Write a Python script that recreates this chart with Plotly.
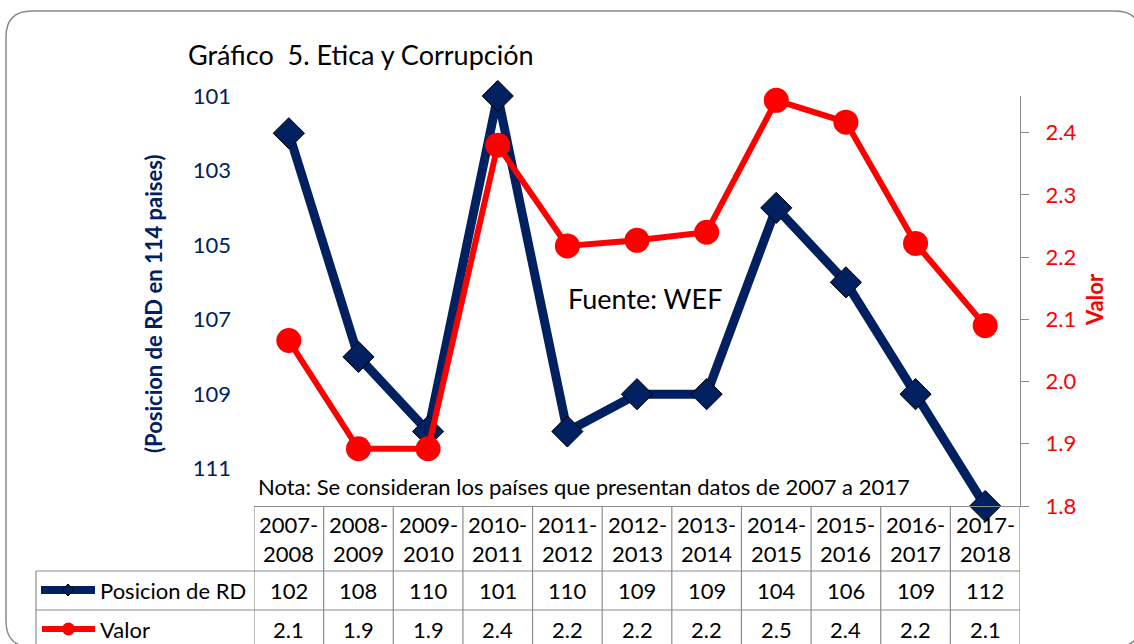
import plotly.graph_objects as go

# ---- data ----
periodos = ["2007-2008", "2008-2009", "2009-2010", "2010-2011", "2011-2012", "2012-2013",
            "2013-2014", "2014-2015", "2015-2016", "2016-2017", "2017-2018"]
posicion = [102, 108, 110, 101, 110, 109, 109, 104, 106, 109, 112]
valor = [2.066, 1.892, 1.892, 2.380, 2.218, 2.227, 2.240, 2.452, 2.417, 2.222, 2.090]
left_ticks = [101, 103, 105, 107, 109, 111]

W, H = 1134, 644
L, R, T, B = 254, 1020, 96, 506  # plot area in px
NAVY = "#002060"
RED = "#FF0000"
GRID = "#8C8C8C"
FONT = "Lato, 'Open Sans', sans-serif"
FS = 22


def px(x):
    return (x - L) / (R - L)


def py(y):
    return (B - y) / (B - T)


fig = go.Figure()
fig.add_trace(go.Scatter(
    x=periodos, y=posicion, name="Posicion de RD", mode="lines+markers",
    line=dict(color=NAVY, width=9),
    marker=dict(symbol="diamond", size=24, color=NAVY, line=dict(color="black", width=1)),
    cliponaxis=False, yaxis="y"))
fig.add_trace(go.Scatter(
    x=periodos, y=valor, name="Valor", mode="lines+markers",
    line=dict(color=RED, width=6),
    marker=dict(symbol="circle", size=25, color=RED),
    cliponaxis=False, yaxis="y2"))

shapes = []
annotations = []

# outer rounded border
x0, y0, x1, y1, r = 6, 11, 1141, 647, 26
path = (f"M {px(x0 + r)} {py(y0)} L {px(x1 - r)} {py(y0)} "
        f"Q {px(x1)} {py(y0)} {px(x1)} {py(y0 + r)} L {px(x1)} {py(y1 - r)} "
        f"Q {px(x1)} {py(y1)} {px(x1 - r)} {py(y1)} L {px(x0 + r)} {py(y1)} "
        f"Q {px(x0)} {py(y1)} {px(x0)} {py(y1 - r)} L {px(x0)} {py(y0 + r)} "
        f"Q {px(x0)} {py(y0)} {px(x0 + r)} {py(y0)} Z")
shapes.append(dict(type="path", path=path, xref="paper", yref="paper",
                   line=dict(color="#8A8A8A", width=1.5), layer="below"))

# data table grid
ROW1, ROW2, BOT = 571, 610, 660
n = len(periodos)
for i in range(n + 1):
    shapes.append(dict(type="line", xref="x", yref="paper", x0=i - 0.5, x1=i - 0.5,
                       y0=py(B), y1=py(BOT), line=dict(color=GRID, width=1.2)))
shapes.append(dict(type="line", xref="paper", yref="paper", x0=px(36), x1=px(36),
                   y0=py(ROW1), y1=py(BOT), line=dict(color=GRID, width=1.2)))
for yy in (ROW1, ROW2):
    shapes.append(dict(type="line", xref="paper", yref="paper", x0=px(36), x1=1,
                       y0=py(yy), y1=py(yy), line=dict(color=GRID, width=1.2)))

# table texts
for i, p in enumerate(periodos):
    a, b = p.split("-")
    annotations.append(dict(x=p, y=py(539), xref="x", yref="paper", text=f"{a}-<br>{b}",
                            showarrow=False, font=dict(size=FS, color="black", family=FONT),
                            xanchor="center", yanchor="middle"))
    annotations.append(dict(x=p, y=py(590), xref="x", yref="paper", text=str(posicion[i]),
                            showarrow=False, font=dict(size=FS, color="black", family=FONT),
                            xanchor="center", yanchor="middle"))
    annotations.append(dict(x=p, y=py(629), xref="x", yref="paper", text=f"{valor[i]:.1f}",
                            showarrow=False, font=dict(size=FS, color="black", family=FONT),
                            xanchor="center", yanchor="middle"))

# legend keys in table
shapes.append(dict(type="line", xref="paper", yref="paper", x0=px(41), x1=px(95),
                   y0=py(590), y1=py(590), line=dict(color=NAVY, width=8)))
dcx, dcy, d = 68, 590, 6
shapes.append(dict(type="path", xref="paper", yref="paper",
                   path=f"M {px(dcx)} {py(dcy - d)} L {px(dcx + d)} {py(dcy)} L {px(dcx)} {py(dcy + d)} L {px(dcx - d)} {py(dcy)} Z",
                   fillcolor=NAVY, line=dict(color="black", width=1)))
shapes.append(dict(type="line", xref="paper", yref="paper", x0=px(42), x1=px(95),
                   y0=py(629), y1=py(629), line=dict(color=RED, width=6)))
shapes.append(dict(type="circle", xref="paper", yref="paper", x0=px(62), x1=px(75),
                   y0=py(622.5), y1=py(635.5), fillcolor=RED, line=dict(color=RED, width=0)))
annotations.append(dict(x=px(98), y=py(590), xref="paper", yref="paper", text="Posicion de RD",
                        showarrow=False, font=dict(size=FS, color="black", family=FONT),
                        xanchor="left", yanchor="middle"))
annotations.append(dict(x=px(98), y=py(629), xref="paper", yref="paper", text="Valor",
                        showarrow=False, font=dict(size=FS, color="black", family=FONT),
                        xanchor="left", yanchor="middle"))

# title and notes
annotations.append(dict(x=px(186), y=py(55), xref="paper", yref="paper",
                        text="Gráfico  5. Etica y Corrupción", showarrow=False,
                        font=dict(size=27, color="black", family=FONT),
                        xanchor="left", yanchor="middle"))
annotations.append(dict(x=px(566), y=py(298), xref="paper", yref="paper",
                        text="Fuente: WEF", showarrow=False,
                        font=dict(size=27, color="black", family=FONT),
                        xanchor="left", yanchor="middle"))
annotations.append(dict(x=px(256), y=py(486), xref="paper", yref="paper",
                        text="Nota: Se consideran los países que presentan datos de 2007 a 2017",
                        showarrow=False, font=dict(size=FS, color="black", family=FONT),
                        xanchor="left", yanchor="middle"))
# axis titles
annotations.append(dict(x=px(153), y=py(304), xref="paper", yref="paper",
                        text="<b>(Posicion de RD en 114 paises)</b>", showarrow=False, textangle=-90,
                        font=dict(size=22, color=NAVY, family=FONT),
                        xanchor="center", yanchor="middle"))
annotations.append(dict(x=px(1094), y=py(300), xref="paper", yref="paper",
                        text="<b>Valor</b>", showarrow=False, textangle=-90,
                        font=dict(size=22, color=RED, family=FONT),
                        xanchor="center", yanchor="middle"))

fig.update_layout(
    width=W, height=H,
    margin=dict(l=L, r=W - R, t=T, b=H - B, pad=0),
    paper_bgcolor="white", plot_bgcolor="white",
    showlegend=False,
    font=dict(family=FONT),
    xaxis=dict(type="category", range=[-0.5, n - 0.5], showticklabels=False, ticks="",
               showgrid=False, zeroline=False, showline=True, linecolor=GRID, linewidth=1.2),
    yaxis=dict(range=[112, 101], tickvals=left_ticks, ticks="", showgrid=False, zeroline=False,
               showline=False, tickfont=dict(size=FS, color=NAVY, family=FONT),
               ticklabelstandoff=22),
    yaxis2=dict(range=[1.8, 2.459], overlaying="y", side="right", dtick=0.1, tick0=1.8,
                tickformat=".1f", ticks="outside", ticklen=8, tickcolor=GRID, tickwidth=1.2,
                showline=True, linecolor=GRID, linewidth=1.2, showgrid=False, zeroline=False,
                tickfont=dict(size=FS, color=RED, family=FONT), ticklabelstandoff=12),
    shapes=shapes,
    annotations=annotations,
)

fig.write_html("out.html", config={"displayModeBar": False},
               post_script="document.body.style.margin='0';document.body.style.overflow='hidden';")
